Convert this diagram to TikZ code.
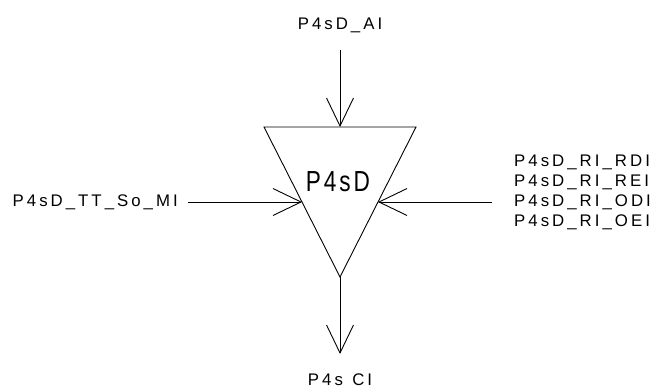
\documentclass[tikz,border=0pt]{standalone}
\usepackage{fontspec}
\setmainfont{Liberation Sans}
\newfontfamily\smallf[LetterSpace=18]{Liberation Sans}
\newfontfamily\bigf[LetterSpace=10,FakeStretch=0.78]{Liberation Sans}
\usetikzlibrary{arrows.meta}
\begin{document}
\begin{tikzpicture}[x=1pt,y=-1pt,
  lbl/.style={inner sep=0pt,font=\smallf\fontsize{16.8}{20}\selectfont},
  conn/.style={line width=0.9pt,-{Straight Barb[length=28pt,width=27pt,line width=0.9pt]}},
  tri/.style={line width=0.9pt}]
\useasboundingbox (0,0) rectangle (653,388);
\coordinate (tl) at (264,127);
\coordinate (tr) at (416,127);
\coordinate (bt) at (340,277);
\coordinate (ltip) at (302,202);
\coordinate (rtip) at (378,202);
\coordinate (ttip) at (340,127);
\coordinate (btip) at (340,354);
\coordinate (tstart) at (340,50);
\coordinate (lstart) at (188,202);
\coordinate (rstart) at (492,202);
\draw[tri] (tl) -- (tr) -- (bt) -- cycle;
\node[inner sep=0pt,font=\bigf\fontsize{29}{32}\selectfont] (center) at (338,182) {P4sD};
\node[lbl] (ai) at (340,25) {P4sD\_AI};
\node[lbl,anchor=east] (mi) at (178,202) {P4sD\_TT\_So\_MI};
\node[lbl,anchor=west] (r1) at (514,162) {P4sD\_RI\_RDI};
\node[lbl,anchor=west] (r2) at (514,182) {P4sD\_RI\_REI};
\node[lbl,anchor=west] (r3) at (514,202) {P4sD\_RI\_ODI};
\node[lbl,anchor=west] (r4) at (514,222) {P4sD\_RI\_OEI};
\node[lbl,anchor=base] (ci) at (340,385.5) {P4s\phantom{\_}CI};
\draw[conn] (tstart) -- (ttip);
\draw[conn] (lstart) -- (ltip);
\draw[conn] (rstart) -- (rtip);
\draw[conn] (bt) -- (btip);
\end{tikzpicture}
\end{document}
